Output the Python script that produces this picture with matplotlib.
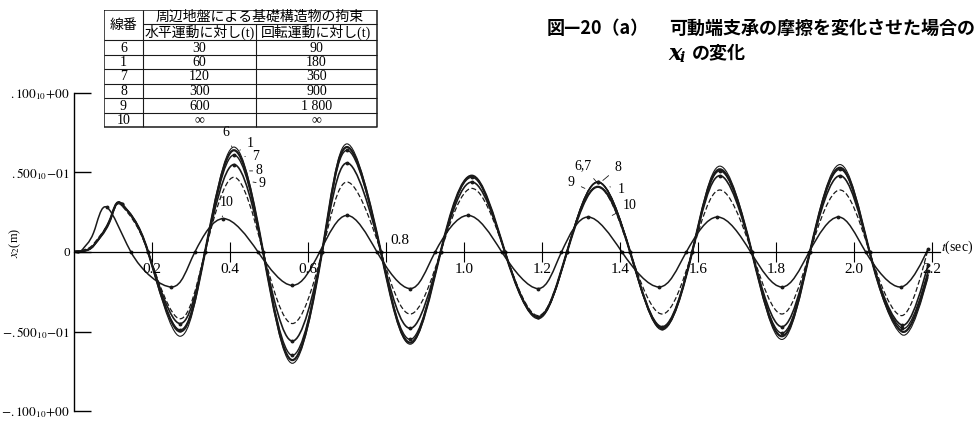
import numpy as np
import matplotlib
matplotlib.use('Agg')
import matplotlib.pyplot as plt
from matplotlib.path import Path
from matplotlib.patches import PathPatch

plt.rcParams['mathtext.fontset'] = 'stix'
plt.rcParams['font.family'] = ['Liberation Serif', 'Noto Sans CJK JP']

# keypoints (extrema and zero crossings), t in sec, x in m
t_main = [0, 0.05, 0.09, 0.123, 0.19, 0.272, 0.336, 0.41, 0.485, 0.56, 0.636, 0.70,
          0.787, 0.862, 0.94, 1.02, 1.105, 1.19, 1.264, 1.343, 1.426, 1.508, 1.585,
          1.656, 1.738, 1.815, 1.887, 1.964, 2.04, 2.123, 2.19]
x6 = [0, 0.004, 0.019, 0.030, 0, -0.053, 0, 0.066, 0, -0.070, 0, 0.068,
      0, -0.058, 0, 0.048, 0, -0.042, 0, 0.044, 0, -0.049, 0,
      0.054, 0, -0.055, 0, 0.055, 0, -0.052, -0.016]
x1 = [0, 0.004, 0.019, 0.030, 0, -0.050, 0, 0.064, 0, -0.068, 0, 0.066,
      0, -0.057, 0, 0.048, 0, -0.041, 0, 0.041, 0, -0.048, 0,
      0.052, 0, -0.053, 0, 0.053, 0, -0.050, -0.014]
x7 = [0, 0.004, 0.019, 0.030, 0, -0.049, 0, 0.061, 0, -0.065, 0, 0.064,
      0, -0.055, 0, 0.047, 0, -0.041, 0, 0.044, 0, -0.048, 0,
      0.051, 0, -0.051, 0, 0.052, 0, -0.048, -0.012]
x8 = [0, 0.004, 0.018, 0.030, 0, -0.045, 0, 0.055, 0, -0.056, 0, 0.056,
      0, -0.048, 0, 0.044, 0, -0.041, 0, 0.044, 0, -0.047, 0,
      0.048, 0, -0.047, 0, 0.048, 0, -0.046, -0.008]
x9 = [0, 0.005, 0.019, 0.029, 0, -0.042, 0, 0.047, 0, -0.045, 0, 0.044,
      0, -0.039, 0, 0.040, 0, -0.040, 0, 0.041, 0, -0.039, 0,
      0.039, 0, -0.039, 0, 0.039, 0, -0.040, 0.002]
t10 = [0, 0.02, 0.05, 0.085, 0.146, 0.25, 0.31, 0.383, 0.472, 0.56, 0.63, 0.70,
       0.777, 0.862, 0.926, 1.01, 1.097, 1.19, 1.25, 1.318, 1.405, 1.50, 1.57,
       1.65, 1.735, 1.815, 1.885, 1.96, 2.03, 2.12, 2.19]
x10 = [0, 0.001, 0.012, 0.028, 0, -0.022, 0, 0.021, 0, -0.021, 0, 0.023,
       0, -0.023, 0, 0.023, 0, -0.023, 0, 0.022, 0, -0.022, 0,
       0.022, 0, -0.022, 0, 0.022, 0, -0.022, 0.002]

xticks = [0.2, 0.4, 0.6, 0.8, 1.0, 1.2, 1.4, 1.6, 1.8, 2.0, 2.2]
yticks = [-0.1, -0.05, 0, 0.05, 0.1]
ytick_labels = [r'$-.100_{10}\!+\!00$', r'$-.500_{10}\!-\!01$', '0',
                r'$.500_{10}\!-\!01$', r'$.100_{10}\!+\!00$']

table_lines = ['6', '1', '7', '8', '9', '10']
table_horiz = ['30', '60', '120', '300', '600', '∞']
table_rot = ['90', '180', '360', '900', '1 800', '∞']


def smooth_path(t, x, k=1.5):
    # Catmull-Rom through the read points, drawn as cubic Bezier by matplotlib
    p = np.column_stack([t, x]).astype(float)
    n = len(p)
    verts = [p[0]]
    codes = [Path.MOVETO]
    for i in range(n - 1):
        p0 = p[i - 1] if i > 0 else p[i]
        p1, p2 = p[i], p[i + 1]
        p3 = p[i + 2] if i + 2 < n else p[i + 1]
        d1 = (p2 - p0) / 6
        d2 = (p3 - p1) / 6
        d1[1] *= k
        d2[1] *= k
        verts += [p1 + d1, p2 - d2, p2]
        codes += [Path.CURVE4] * 3
    return Path(verts, codes)


fig = plt.figure(figsize=(9.79, 4.23), dpi=100)
ax = fig.add_axes([74 / 979, 12 / 423, 866 / 979, 318 / 423])
ax.set_xlim(0, 866 / 390)
ax.set_ylim(-0.1, 0.1)

col = '#1a1a1a'
styles = [
    (t_main, x6, dict(lw=0.8, ls='-'), None),
    (t_main, x1, dict(lw=1.6, ls='-'), None),
    (t_main, x7, dict(lw=1.0, ls='-'), 'o'),
    (t_main, x8, dict(lw=1.2, ls='-'), 'o'),
    (t_main, x9, dict(lw=0.9, ls=(0, (4, 2))), None),
    (t10, x10, dict(lw=1.1, ls='-'), 'o'),
]
for tt, xx, st, mk in styles:
    ax.add_patch(PathPatch(smooth_path(tt, xx), fill=False, ec=col, **st))
    if mk:
        ax.plot(tt[3:], xx[3:], mk, ms=1.8, color=col)

for s in ['top', 'right']:
    ax.spines[s].set_visible(False)
ax.spines['bottom'].set_position(('data', 0))
ax.spines['left'].set_bounds(-0.1, 0.1)
ax.spines['left'].set_linewidth(1.0)
ax.spines['bottom'].set_linewidth(0.9)

ax.set_xticks(xticks)
ax.set_xticklabels(['' if v == 0.8 else f'{v:.1f}' for v in xticks])
ax.tick_params(axis='x', direction='inout', length=14, width=0.8, labelsize=11, pad=1)
ax.set_yticks(yticks)
ax.set_yticklabels(ytick_labels)
ax.tick_params(axis='y', direction='in', length=12, width=1.0, labelsize=9.5, pad=3)
ax.text(0.8 + 0.01, 0.003, '0.8', fontsize=11, ha='left', va='bottom')
ax.text(866 / 390 + 0.003, 0.003, r'$t$(sec)', fontsize=10, ha='left', va='center',
        clip_on=False)
fig.text(15 / 979, 1 - 243 / 423, r'$x_2$(m)', rotation=90, fontsize=9,
         ha='center', va='center')

# curve labels
anno = [
    ('6', (0.405, 0.066), (0.390, 0.075)),
    ('1', (0.425, 0.064), (0.452, 0.068)),
    ('7', (0.438, 0.060), (0.466, 0.060)),
    ('8', (0.450, 0.051), (0.474, 0.051)),
    ('9', (0.459, 0.044), (0.483, 0.043)),
    ('10', (0.380, 0.022), (0.392, 0.031)),
    ('6,7', (1.340, 0.044), (1.305, 0.054)),
    ('8', (1.356, 0.045), (1.395, 0.053)),
    ('9', (1.310, 0.040), (1.275, 0.044)),
    ('1', (1.374, 0.041), (1.402, 0.039)),
    ('10', (1.380, 0.023), (1.425, 0.029)),
]
for lab, xy, xyt in anno:
    ax.annotate(lab, xy=xy, xytext=xyt, fontsize=10, ha='center', va='center',
                arrowprops=dict(arrowstyle='-', lw=0.6, color=col, shrinkA=3, shrinkB=0))

# table drawn in its own pixel-sized axes
tb = fig.add_axes([104 / 979, 1 - 128 / 423, 274 / 979, 118 / 423])
tb.set_xlim(0, 274)
tb.set_ylim(118, 0)
tb.axis('off')
c0, c1, c2, c3 = 0, 39, 152, 273
rows = [0, 14, 30, 45, 59, 74, 88, 103, 117]
lw = 0.8
tb.plot([c0, c3, c3, c0, c0], [0, 0, 117, 117, 0], color=col, lw=1.1)
tb.hlines(rows[2:-1], c0, c3, color=col, lw=lw)
tb.hlines(rows[1], c1, c3, color=col, lw=lw)
tb.vlines(c1, 0, 117, color=col, lw=lw)
tb.vlines(c2, rows[1], 117, color=col, lw=lw)
fs = 10
tb.text((c0 + c1) / 2, rows[2] / 2, '線番', ha='center', va='center', fontsize=fs)
tb.text((c1 + c3) / 2, rows[1] / 2 + 0.5, '周辺地盤による基礎構造物の拘束', ha='center',
        va='center', fontsize=fs)
tb.text((c1 + c2) / 2, (rows[1] + rows[2]) / 2, '水平運動に対し(t)', ha='center',
        va='center', fontsize=fs)
tb.text((c2 + c3) / 2, (rows[1] + rows[2]) / 2, '回転運動に対し(t)', ha='center',
        va='center', fontsize=fs)
for i, (a, b, c) in enumerate(zip(table_lines, table_horiz, table_rot)):
    y = (rows[i + 2] + rows[i + 3]) / 2 + 0.5
    tb.text((c0 + c1) / 2, y, a, ha='center', va='center', fontsize=fs)
    tb.text((c1 + c2) / 2, y, b, ha='center', va='center', fontsize=fs)
    tb.text((c2 + c3) / 2, y, c, ha='center', va='center', fontsize=fs)

# title
jp = ['Noto Sans CJK JP', 'DejaVu Sans']
fig.text(547 / 979, 1 - 28 / 423, '図—20（a）', fontsize=13, fontweight='bold',
         ha='left', va='center', family=jp)
fig.text(975 / 979, 1 - 28 / 423, '可動端支承の摩擦を変化させた場合の', fontsize=13,
         fontweight='bold', ha='right', va='center', family=jp)
fig.text(668 / 979, 1 - 54 / 423, 'x', fontsize=16, fontweight='bold', style='italic',
         ha='left', va='center', family=['DejaVu Serif'])
fig.text(680 / 979, 1 - 58 / 423, 'i', fontsize=10, fontweight='bold', style='italic',
         ha='left', va='center', family=['DejaVu Serif'])
fig.text(692 / 979, 1 - 53 / 423, 'の変化', fontsize=13, fontweight='bold', ha='left',
         va='center', family=jp)

fig.savefig('out.png', dpi=100, facecolor='white')
